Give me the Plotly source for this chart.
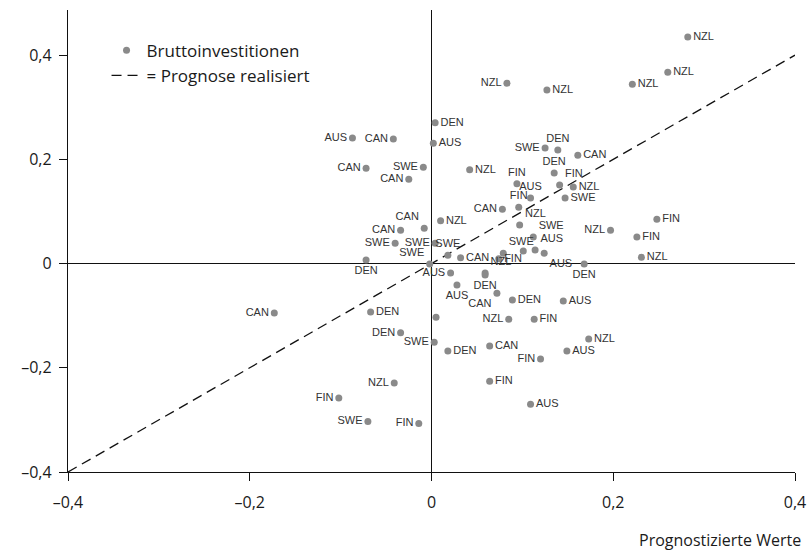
import plotly.graph_objects as go

# Predicted (x) vs realised (y) values of gross investment
labels = ["NZL", "NZL", "NZL", "NZL", "NZL", "DEN", "AUS", "CAN", "AUS", "SWE",
          "DEN", "CAN", "CAN", "SWE", "NZL", "DEN", "CAN", "FIN", "FIN", "NZL",
          "AUS", "SWE", "FIN", "CAN", "NZL", "NZL", "CAN", "CAN", "SWE", "NZL",
          "FIN", "FIN", "NZL", "SWE", "SWE", "SWE", "CAN", "SWE", "DEN", "AUS",
          "FIN", "SWE", "", "AUS", "AUS", "NZL", "DEN", "AUS", "CAN", "DEN",
          "AUS", "DEN", "", "NZL", "FIN", "SWE", "DEN", "CAN", "NZL", "AUS",
          "FIN", "FIN", "AUS", "CAN", "DEN", "DEN", "NZL", "FIN", "SWE", "FIN"]

x_pred = [0.282, 0.260, 0.221, 0.083, 0.127, 0.004, -0.087, -0.042, 0.002, 0.125,
          0.139, 0.161, -0.072, -0.009, 0.042, 0.135, -0.025, 0.094, 0.141, 0.156,
          0.109, 0.147, 0.096, 0.078, 0.010, 0.097, -0.008, -0.034, 0.112, 0.197,
          0.248, 0.226, 0.231, -0.040, 0.004, 0.018, 0.032, -0.002, -0.072, 0.021,
          0.074, 0.079, 0.101, 0.114, 0.124, 0.059, 0.059, 0.028, 0.072, 0.089,
          0.145, 0.168, 0.005, 0.085, 0.113, 0.003, 0.018, 0.064, 0.173, 0.149,
          0.120, 0.064, 0.109, -0.173, -0.067, -0.034, -0.041, -0.102, -0.070, -0.014]

y_real = [0.435, 0.367, 0.344, 0.346, 0.333, 0.270, 0.241, 0.239, 0.231, 0.222,
          0.218, 0.208, 0.183, 0.185, 0.180, 0.174, 0.162, 0.153, 0.151, 0.147,
          0.126, 0.126, 0.108, 0.104, 0.082, 0.074, 0.068, 0.064, 0.051, 0.064,
          0.085, 0.051, 0.012, 0.039, 0.039, 0.016, 0.011, -0.001, 0.007, -0.018,
          0.009, 0.020, 0.024, 0.026, 0.020, -0.018, -0.022, -0.041, -0.057, -0.070,
          -0.072, -0.001, -0.103, -0.107, -0.107, -0.151, -0.168, -0.158, -0.145, -0.168,
          -0.183, -0.226, -0.270, -0.095, -0.093, -0.133, -0.229, -0.258, -0.303, -0.307]

label_side = ["middle right", "middle right", "middle right", "middle left", "middle right",
              "middle right", "middle left", "middle left", "middle right", "middle left",
              "top center", "middle right", "middle left", "middle left", "middle right",
              "top center", "middle left", "top center", "top right", "middle right",
              "top center", "middle right", "top center", "middle left", "middle right",
              "top right", "top left", "middle left", "top right", "middle left",
              "middle right", "middle right", "middle right", "middle left", "middle left",
              "top center", "middle right", "top left", "bottom center", "middle left",
              "middle right", "top right", "middle right", "top right", "bottom right",
              "top right", "bottom center", "bottom center", "bottom left", "middle right",
              "middle right", "bottom center", "middle right", "middle left", "middle right",
              "middle left", "middle right", "middle right", "middle right", "middle right",
              "middle left", "middle right", "middle right", "middle left", "middle right",
              "middle left", "middle left", "middle left", "middle left", "middle left"]

diag = [-0.4, 0.4]
tick_vals = [-0.4, -0.2, 0, 0.2, 0.4]
tick_text = ["\u20130,4", "\u20130,2", "0", "0,2", "0,4"]

dot_color = "#8a8a8a"

fig = go.Figure()
fig.add_trace(go.Scatter(
    x=diag, y=diag, mode="lines", name="= Prognose realisiert",
    line=dict(color="#111111", width=1.3, dash="10px,6px"),
    showlegend=True, legendrank=2, hoverinfo="skip"))
fig.add_trace(go.Scatter(
    x=x_pred, y=y_real, mode="markers+text", text=labels,
    textposition=label_side,
    textfont=dict(family="Liberation Sans, Arial", size=11, color="#333333"),
    marker=dict(color=dot_color, size=7), showlegend=False, cliponaxis=False))
fig.add_trace(go.Scatter(
    x=[None], y=[None], mode="markers", name="Bruttoinvestitionen",
    marker=dict(color=dot_color, size=7), showlegend=True, legendrank=1))

axis_common = dict(
    showgrid=False, zeroline=True, zerolinecolor="#111111", zerolinewidth=1.3,
    showline=True, linecolor="#111111", linewidth=1.3,
    ticks="outside", ticklen=8, tickwidth=1.2, tickcolor="#111111",
    tickvals=tick_vals, ticktext=tick_text, automargin=False,
    tickfont=dict(family="Open Sans", size=16, color="#1a1a1a"))

fig.update_xaxes(range=[-0.4, 0.4], ticklabelstandoff=8, **axis_common)
fig.update_yaxes(range=[-0.4, 0.4866], ticklabelstandoff=4, **axis_common)

fig.add_annotation(
    text="Prognostizierte Werte", xref="paper", yref="paper",
    x=1.011, y=-0.147, xanchor="right", yanchor="middle", showarrow=False,
    font=dict(family="Open Sans", size=16, color="#1a1a1a"))

fig.update_layout(
    width=811, height=552,
    margin=dict(l=68, r=16, t=10, b=80, autoexpand=False),
    plot_bgcolor="white", paper_bgcolor="white",
    legend=dict(x=0.053, y=0.951, xanchor="left", yanchor="top",
                font=dict(family="Open Sans", size=17, color="#1a1a1a"),
                bgcolor="rgba(0,0,0,0)", tracegroupgap=0, itemwidth=30),
)

fig.write_html("out.html", config={"displayModeBar": False},
               post_script="document.body.style.margin='0';document.body.style.overflow='hidden';")
